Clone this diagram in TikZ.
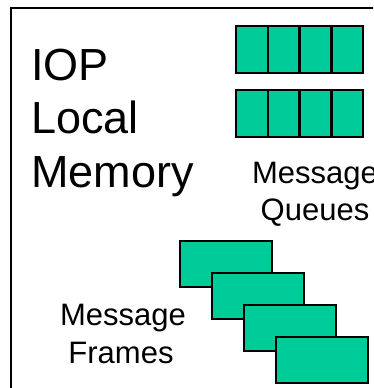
\documentclass[tikz,border=0pt]{standalone}
\usepackage{fontspec}
\setmainfont{Liberation Sans}
\definecolor{qgreen}{RGB}{0,204,153}
\begin{document}
\begin{tikzpicture}[x=1pt,y=-1pt,
  cell/.style={draw=black,line width=2.5pt,fill=qgreen,minimum width=31.8pt,minimum height=47pt,inner sep=0pt,outer sep=0pt,anchor=north west},
  frame/.style={draw=black,line width=2pt,fill=qgreen,minimum width=92pt,minimum height=46pt,inner sep=0pt,anchor=north west},
  big/.style={font=\fontsize{45}{53}\selectfont,inner sep=0pt,anchor=base west},
  small/.style={font=\fontsize{31}{37}\selectfont,inner sep=0pt,anchor=base}]
\useasboundingbox (0,0) rectangle (373,388);
\clip (0,0) rectangle (373,388);
\fill[white] (0,0) rectangle (373,388);
\node[draw=black,line width=2pt,inner sep=0pt,anchor=north west,minimum width=380pt,minimum height=390pt] (outer) at (10,7) {};
% queues
\foreach \i in {0,1,2,3}{
  \node[cell] (qa\i) at ({236+31.8*\i},26) {};
  \node[cell] (qb\i) at ({236+31.8*\i},90) {};
}
% frames
\node[frame] (f1) at (179,240) {};
\node[frame] (f2) at (211,272) {};
\node[frame] (f3) at (243,304) {};
\node[frame] (f4) at (275,336) {};
% texts
\node[big] (t1) at (31,80) {IOP};
\node[big] (t2) at (31,133) {Local};
\node[big] (t3) at (31,187) {Memory};
\node[small] (mq1) at (315,183) {Message};
\node[small] (mq2) at (315,220) {Queues};
\node[small] (mf1) at (123,325) {Message};
\node[small] (mf2) at (121,363) {Frames};
\end{tikzpicture}
\end{document}
